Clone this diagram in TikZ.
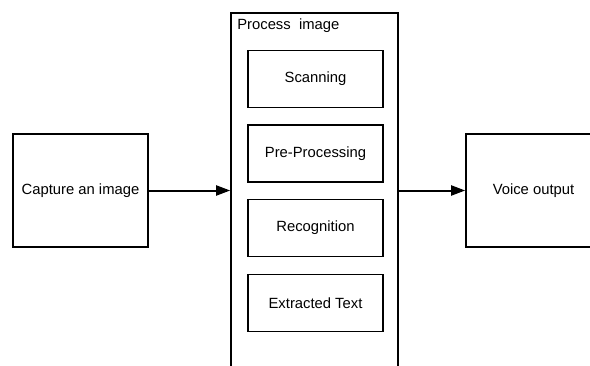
\documentclass[tikz,border=0pt]{standalone}
\usepackage{fontspec}
\setmainfont{Liberation Sans}
\usetikzlibrary{arrows.meta,positioning,calc}

\begin{document}
\begin{tikzpicture}
[x=1pt,y=1pt,->,>={Triangle[length=14pt,width=10pt]},
line width=2pt,
box/.style={rectangle,draw,line width=1.6pt,minimum width=135pt,minimum height=113pt,font=\fontsize{14.8}{17}\selectfont},
stepbox/.style={rectangle,draw,line width=1.5pt,minimum width=135pt,minimum height=57pt,font=\fontsize{14.8}{17}\selectfont}]
\useasboundingbox (0,0) rectangle (590,365);

\node (cap) at (80.5,174.5)[box] {Capture an image};
\node (proc) at (314.5,157)[box,minimum width=167pt,minimum height=390pt] {};
\node (title) at (233,339)[anchor=west,font=\fontsize{14.8}{17}\selectfont] {Process\ \ image};
\node (voice) at (533.5,174.5)[box] {Voice output};

\node (scan) at (315.5,286)[stepbox] {Scanning};
\node (pre) at (315.5,211.5)[stepbox] {Pre-Processing};
\node (rec) at (315.5,137)[stepbox] {Recognition};
\node (ext) at (315.5,62)[stepbox] {Extracted Text};

\draw (cap) -- (cap.east -| proc.west);
\draw (cap.east -| proc.east) -- (voice);

\end{tikzpicture}
\end{document}
